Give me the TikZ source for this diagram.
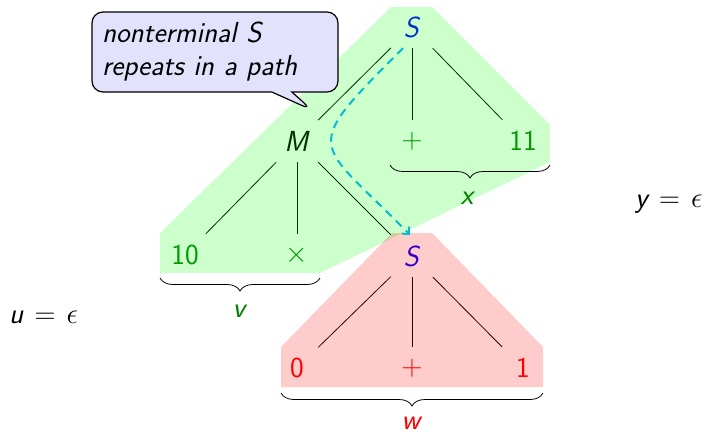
\RequirePackage{fix-cm}
\documentclass[tikz,border=0pt]{standalone}
\usepackage{amsmath}
\usetikzlibrary{shapes.callouts,decorations.pathreplacing,arrows.meta}
\definecolor{dashcyan}{RGB}{0,190,205}
\definecolor{callfill}{RGB}{226,226,252}
\definecolor{leafgreen}{RGB}{0,128,0}
\begin{document}
\begin{tikzpicture}[x=1pt,y=-1pt,
  font=\fontsize{29}{35}\selectfont\sffamily,
  tn/.style={minimum size=42pt, inner sep=0pt},
  edge/.style={draw=black, line width=0.8pt},
  bracedeco/.style={decorate, decoration={brace, mirror, amplitude=13pt}, line width=0.8pt},
  lbl/.style={inner sep=0pt}]
\useasboundingbox (0,0) rectangle (705,434);
% tree nodes
\node[tn,text=blue] (S1) at (412,27) {\textit{S}};
\node[tn] (M) at (297,141) {\textit{M}};
\node[tn,text=leafgreen] (P1) at (412,141) {$+$};
\node[tn,text=leafgreen] (E) at (523,141) {11};
\node[tn,text=leafgreen] (T) at (185,255) {10};
\node[tn,text=leafgreen] (X) at (297,255) {$\times$};
\node[tn,text=blue] (S2) at (412,256) {\textit{S}};
\node[tn,text=red] (Z) at (297,368) {0};
\node[tn,text=red] (P2) at (412,368) {$+$};
\node[tn,text=red] (O) at (523,368) {1};
% edges
\draw[edge] (S1) -- (M);
\draw[edge] (S1) -- (P1);
\draw[edge] (S1) -- (E);
\draw[edge] (M) -- (T);
\draw[edge] (M) -- (X);
\draw[edge] (M) -- (S2);
\draw[edge] (S2) -- (Z);
\draw[edge] (S2) -- (P2);
\draw[edge] (S2) -- (O);
% shaded regions
\fill[green, fill opacity=0.2] (160,233) -- (391,7) -- (432,7) -- (550,125) -- (550,162) -- (320,273) -- (160,273) -- cycle;
\fill[red, fill opacity=0.2] (392,233) -- (432,233) -- (543,347) -- (543,387) -- (281,387) -- (281,347) -- cycle;
% braces
\coordinate (xb1) at (390,165);
\coordinate (xb2) at (550,165);
\coordinate (vb1) at (160,278);
\coordinate (vb2) at (320,278);
\coordinate (wb1) at (281,393);
\coordinate (wb2) at (543,393);
\draw[bracedeco] (xb1) -- (xb2);
\draw[bracedeco] (vb1) -- (vb2);
\draw[bracedeco] (wb1) -- (wb2);
\node[lbl,text=leafgreen] (lx) at (468,198) {\textit{x}};
\node[lbl,text=leafgreen] (lv) at (240,311) {\textit{v}};
\node[lbl,text=red] (lw) at (412,423) {\textit{w}};
\node[lbl,anchor=base west] (lu) at (9,323) {$\textit{u}\mkern2mu=\mkern2mu\epsilon$};
\node[lbl,anchor=base west] (ly) at (635,207) {$\textit{y}\mkern2mu=\mkern2mu\epsilon$};
% dashed path
\draw[dashcyan, line width=2pt, dash pattern=on 8pt off 6pt, -{Straight Barb[length=5pt,width=10pt]}] ([xshift=-9pt]S1.south) .. controls (298,153) and (315,138) .. ([xshift=-2pt]S2.north);
% callout
\node[rectangle callout, draw=black, line width=1.2pt, fill=callfill, rounded corners=11pt,
  callout absolute pointer={(312,110)}, callout pointer width=20pt,
  minimum width=246pt, minimum height=80pt, text width=226pt, inner xsep=10pt, align=left,
  font=\fontsize{29}{33}\selectfont\sffamily\itshape] (C) at (215,52) {nonterminal S\\repeats in a path};
\end{tikzpicture}
\end{document}
